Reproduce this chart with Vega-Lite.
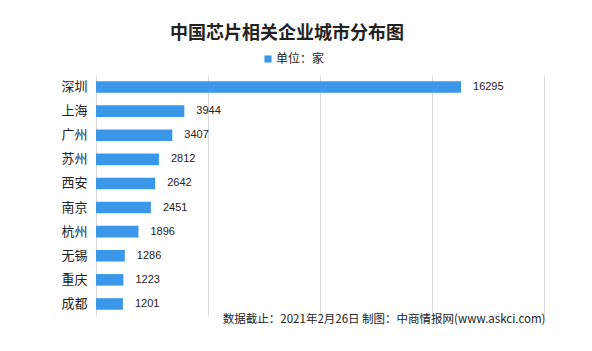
{
  "$schema": "https://vega.github.io/schema/vega-lite/v6.json",
  "autosize": {"type": "none"},
  "width": 448,
  "height": 241,
  "padding": {"left": 96, "top": 75, "right": 48, "bottom": 35},
  "background": "white",
  "title": {
    "text": "中国芯片相关企业城市分布图",
    "anchor": "start",
    "frame": "group",
    "dx": 74,
    "offset": 10,
    "font": "Noto Sans CJK SC",
    "fontSize": 18,
    "fontWeight": "bold",
    "color": "#222222"
  },
  "data": {
    "values": [
      {"city": "深圳", "count": 16295},
      {"city": "上海", "count": 3944},
      {"city": "广州", "count": 3407},
      {"city": "苏州", "count": 2812},
      {"city": "西安", "count": 2642},
      {"city": "南京", "count": 2451},
      {"city": "杭州", "count": 1896},
      {"city": "无锡", "count": 1286},
      {"city": "重庆", "count": 1223},
      {"city": "成都", "count": 1201}
    ]
  },
  "encoding": {
    "y": {
      "field": "city",
      "type": "nominal",
      "sort": null,
      "scale": {"paddingInner": 0.52, "paddingOuter": 0.26},
      "axis": {
        "title": null,
        "domain": false,
        "ticks": false,
        "grid": false,
        "labelPadding": 9,
        "labelFont": "Noto Sans CJK SC",
        "labelFontSize": 13,
        "labelColor": "#222222"
      }
    },
    "x": {
      "field": "count",
      "type": "quantitative",
      "scale": {"domain": [0, 20000], "nice": false},
      "axis": {
        "values": [0, 5000, 10000, 15000, 20000],
        "labels": false,
        "ticks": false,
        "domain": false,
        "grid": true,
        "gridColor": "#d9d9d9",
        "gridWidth": 1,
        "title": "数据截止：2021年2月26日  制图：中商情报网(www.askci.com)",
        "titleFont": "Noto Sans CJK SC",
        "titleFontSize": 11.5,
        "titleFontWeight": "normal",
        "titleColor": "#222222",
        "titleX": 449,
        "titleY": 3,
        "titleAlign": "right",
        "titleAnchor": "end",
        "titleBaseline": "middle"
      }
    }
  },
  "layer": [
    {
      "mark": {"type": "bar", "color": "#3b97e8"},
      "encoding": {
        "color": {
          "datum": "单位：家",
          "scale": {"range": ["#3b97e8"]},
          "legend": {
            "title": null,
            "orient": "none",
            "legendX": 166,
            "legendY": -22,
            "symbolType": "square",
            "symbolSize": 50,
            "symbolStrokeWidth": 0,
            "labelFont": "Noto Sans CJK SC",
            "labelFontSize": 12,
            "labelColor": "#222222",
            "labelOffset": 2
          }
        }
      }
    },
    {
      "mark": {"type": "text", "align": "left", "dx": 12, "font": "Liberation Sans", "fontSize": 11, "color": "#222222"},
      "encoding": {"text": {"field": "count", "type": "quantitative", "format": "d"}}
    }
  ],
  "config": {"view": {"stroke": null}}
}
